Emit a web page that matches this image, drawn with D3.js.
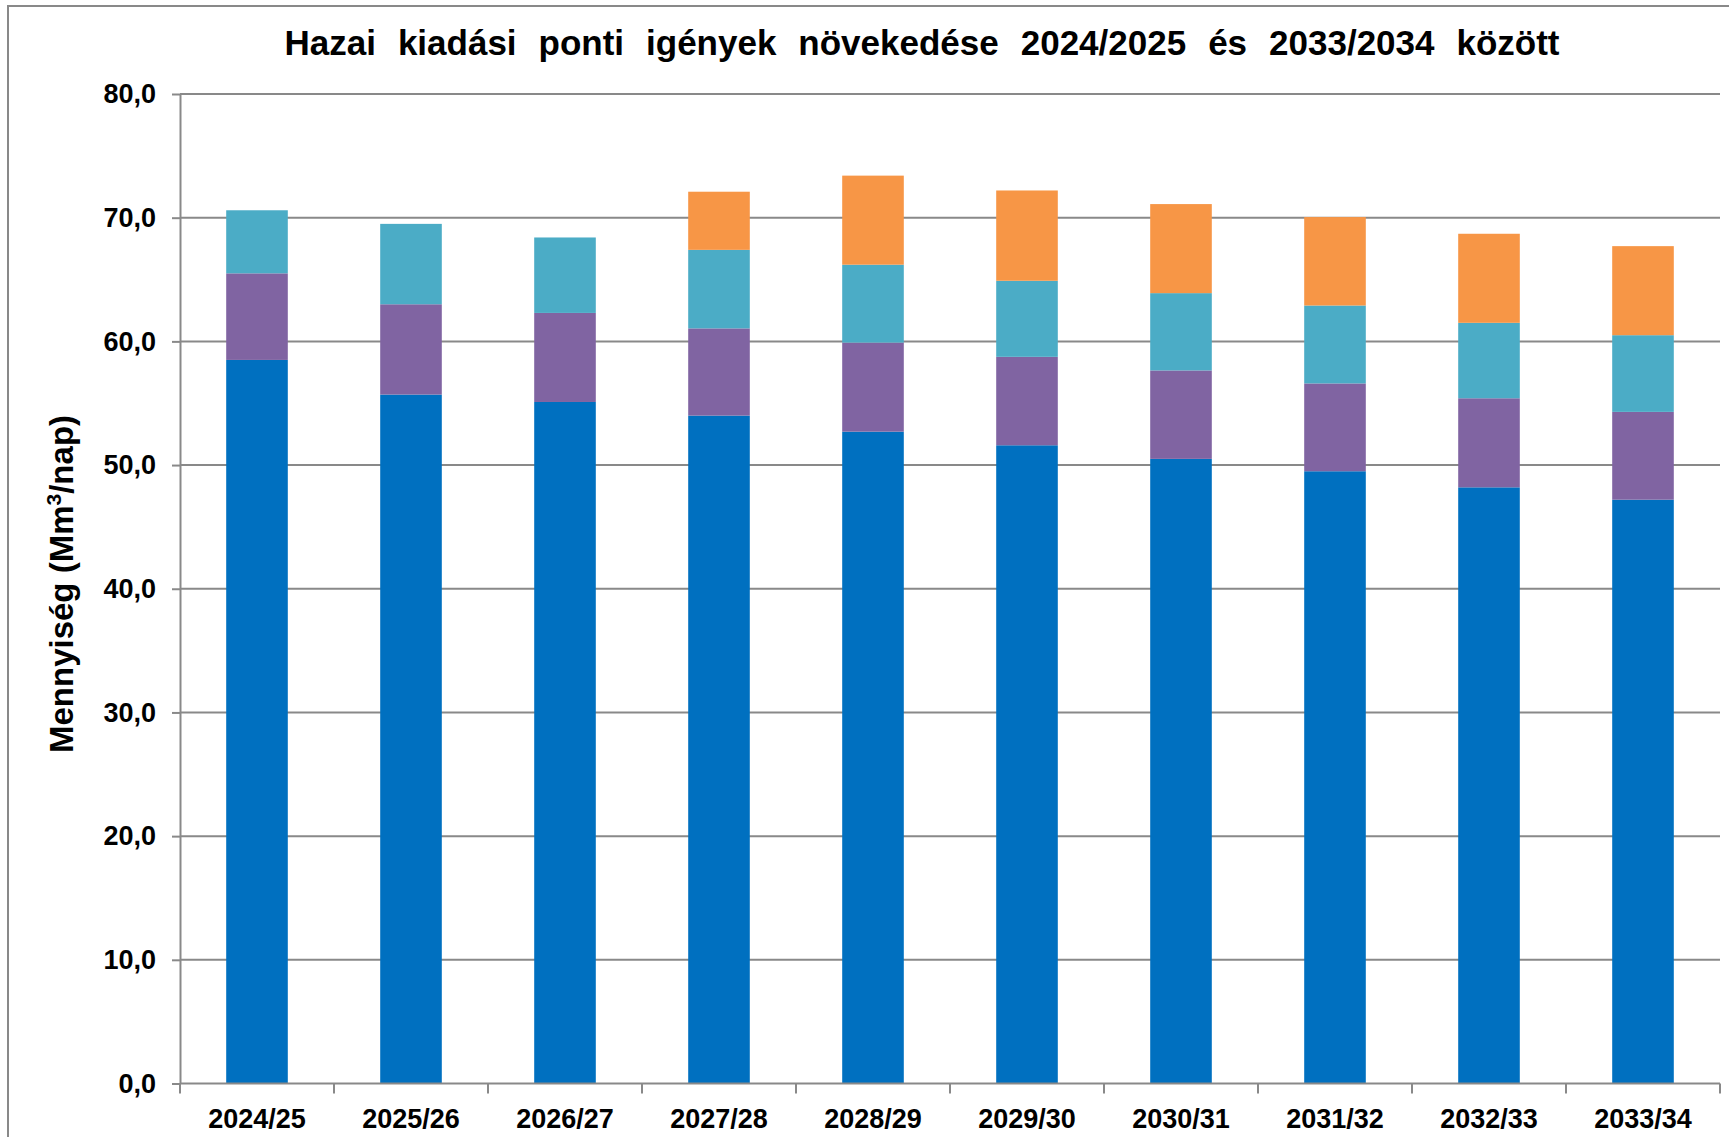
<!DOCTYPE html>
<html lang="hu">
<head>
<meta charset="utf-8">
<title>Hazai kiadási ponti igények</title>
<script src="https://d3js.org/d3.v7.min.js"></script>
<style>
  body { margin: 0; background: #fff; }
  text { font-family: "Liberation Sans", Arial, sans-serif; font-weight: bold; fill: #000; }
</style>
</head>
<body>
<div id="chart"></div>
<script>
// Data
const categories = ["2024/25", "2025/26", "2026/27", "2027/28", "2028/29",
                    "2029/30", "2030/31", "2031/32", "2032/33", "2033/34"];
const blueValues   = [58.5, 55.7, 55.1, 54.0, 52.7, 51.6, 50.5, 49.5, 48.2, 47.2];
const purpleValues = [7.0, 7.3, 7.2, 7.05, 7.2, 7.15, 7.15, 7.1, 7.2, 7.1];
const tealValues   = [5.1, 6.5, 6.1, 6.35, 6.3, 6.15, 6.25, 6.3, 6.1, 6.2];
const orangeValues = [0, 0, 0, 4.7, 7.2, 7.3, 7.2, 7.15, 7.2, 7.2];
const yTicks = [0, 10, 20, 30, 40, 50, 60, 70, 80];

const keys = ["blue", "purple", "teal", "orange"];
const colors = { blue: "#0070C0", purple: "#8064A2", teal: "#4BACC6", orange: "#F79646" };

const rows = categories.map((c, i) => ({
  cat: c,
  blue: blueValues[i],
  purple: purpleValues[i],
  teal: tealValues[i],
  orange: orangeValues[i]
}));

// Dimensions
const width = 1729;
const height = 1137;
const plot = { left: 180, right: 1720, top: 94, bottom: 1083.5 };
const gridColor = "#898989";

const svg = d3.select("#chart").append("svg")
  .attr("width", width)
  .attr("height", height);

svg.append("rect")
  .attr("width", width).attr("height", height)
  .attr("fill", "#fff");

// Outer frame (runs past the right and bottom edges)
svg.append("rect")
  .attr("x", 8).attr("y", 6)
  .attr("width", width + 20).attr("height", height + 20)
  .attr("fill", "none")
  .attr("stroke", gridColor)
  .attr("stroke-width", 2);

// Scales
const x = d3.scaleBand()
  .domain(categories)
  .range([plot.left, plot.right])
  .paddingInner(0.6)
  .paddingOuter(0.3);

const xCell = d3.scaleBand()
  .domain(categories)
  .range([plot.left, plot.right])
  .padding(0);

const y = d3.scaleLinear()
  .domain([0, 80])
  .range([plot.bottom, plot.top]);

// Gridlines
svg.append("g")
  .selectAll("line")
  .data(yTicks.filter(d => d > 0))
  .join("line")
  .attr("x1", plot.left)
  .attr("x2", plot.right)
  .attr("y1", d => y(d))
  .attr("y2", d => y(d))
  .attr("stroke", gridColor)
  .attr("stroke-width", 2);

// Stacked bars
const stacked = d3.stack().keys(keys)(rows);

svg.append("g")
  .selectAll("g")
  .data(stacked)
  .join("g")
  .attr("fill", d => colors[d.key])
  .selectAll("rect")
  .data(d => d.filter(s => s[1] - s[0] > 0))
  .join("rect")
  .attr("x", d => x(d.data.cat))
  .attr("y", d => y(d[1]))
  .attr("width", x.bandwidth())
  .attr("height", d => y(d[0]) - y(d[1]));

// Y axis
const yAxis = svg.append("g")
  .attr("transform", `translate(${plot.left},0)`)
  .call(d3.axisLeft(y)
    .tickValues(yTicks)
    .tickFormat(d => d3.format(".1f")(d).replace(".", ","))
    .tickSize(8)
    .tickSizeOuter(0)
    .tickPadding(16));

yAxis.selectAll("path, line").attr("stroke", gridColor).attr("stroke-width", 2);
yAxis.selectAll("text").style("font-size", "27px").attr("fill", "#000");

// X axis line and boundary ticks
svg.append("line")
  .attr("x1", plot.left).attr("x2", plot.right)
  .attr("y1", y(0)).attr("y2", y(0))
  .attr("stroke", gridColor)
  .attr("stroke-width", 2);

const bounds = categories.map(c => xCell(c)).concat([xCell(categories[categories.length - 1]) + xCell.bandwidth()]);

svg.append("g")
  .selectAll("line")
  .data(bounds)
  .join("line")
  .attr("x1", d => d).attr("x2", d => d)
  .attr("y1", y(0)).attr("y2", y(0) + 10)
  .attr("stroke", gridColor)
  .attr("stroke-width", 2);

// X labels
const xAxis = svg.append("g")
  .attr("transform", `translate(0,${y(0)})`)
  .call(d3.axisBottom(x).tickSize(0).tickPadding(25.5));

xAxis.select(".domain").remove();
xAxis.selectAll("text").style("font-size", "27px").attr("fill", "#000");

// Title, words spread to the reference width
const title = svg.append("text")
  .attr("x", 922)
  .attr("y", 55)
  .attr("text-anchor", "middle")
  .style("font-size", "35px")
  .text("Hazai kiadási ponti igények növekedése 2024/2025 és 2033/2034 között");

const natural = title.node().getComputedTextLength();
const spaces = title.text().split(" ").length - 1;
title.style("word-spacing", `${Math.max(0, (1275 - natural) / spaces)}px`);

// Y axis title
const yTitle = svg.append("text")
  .attr("transform", "translate(73,584) rotate(-90)")
  .attr("text-anchor", "middle")
  .style("font-size", "33px");

yTitle.append("tspan").text("Mennyiség (Mm");
yTitle.append("tspan").attr("dy", -12).style("font-size", "21px").text("3");
yTitle.append("tspan").attr("dy", 12).text("/nap)");
</script>
</body>
</html>
